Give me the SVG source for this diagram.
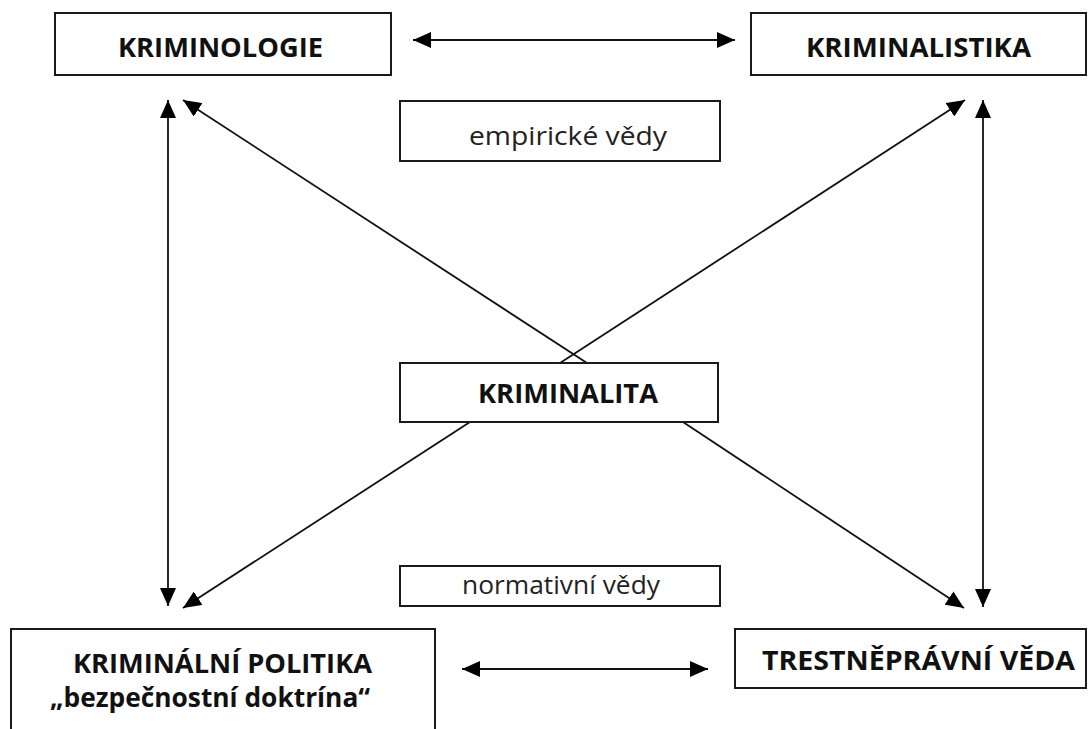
<svg xmlns="http://www.w3.org/2000/svg" width="1088" height="729" viewBox="0 0 1088 729">
<style>
.box{fill:#fff;stroke:#1a1a1a;stroke-width:2}
.b{font-family:"Open Sans","Liberation Sans",sans-serif;font-weight:bold;font-size:26.5px;fill:#111;text-anchor:start}
.r{font-family:"Open Sans","Liberation Sans",sans-serif;font-size:25px;fill:#222;text-anchor:start}
.c{stroke:#111;stroke-width:1.8;fill:none;marker-end:url(#ah)}
.d{stroke:#111;stroke-width:1.8;fill:none;marker-start:url(#ah);marker-end:url(#ah)}
</style>
<defs>
<marker id="ah" viewBox="0 0 18 16" refX="18" refY="8" markerWidth="18" markerHeight="16" markerUnits="userSpaceOnUse" orient="auto-start-reverse">
<path d="M0,0 L18,8 L0,16 Z" fill="#000"/>
</marker>
</defs>
<rect width="1088" height="729" fill="#fff"/>
<g id="connectors">
<line class="d" x1="413" y1="40" x2="735" y2="40"/>
<line class="d" x1="462" y1="669" x2="708" y2="669"/>
<line class="d" x1="168" y1="100" x2="168" y2="606"/>
<line class="d" x1="983" y1="100" x2="983" y2="607"/>
<line class="c" x1="587" y1="363" x2="183" y2="100"/>
<line class="c" x1="560" y1="363" x2="965" y2="100"/>
<line class="c" x1="470" y1="422" x2="183" y2="608"/>
<line class="c" x1="683" y1="422" x2="964" y2="608"/>
</g>
<g id="kriminologie">
<rect class="box" x="55" y="13" width="336" height="62"/>
<text class="b" x="118" y="57" textLength="205" lengthAdjust="spacingAndGlyphs">KRIMINOLOGIE</text>
</g>
<g id="kriminalistika">
<rect class="box" x="751" y="13" width="335" height="62"/>
<text class="b" x="806" y="57" textLength="225" lengthAdjust="spacingAndGlyphs">KRIMINALISTIKA</text>
</g>
<g id="empiricke">
<rect class="box" x="400" y="101" width="320" height="60"/>
<text class="r" x="469" y="145" textLength="198" lengthAdjust="spacingAndGlyphs">empirické vědy</text>
</g>
<g id="kriminalita">
<rect class="box" x="400" y="363" width="318" height="59"/>
<text class="b" x="478" y="403" textLength="180" lengthAdjust="spacingAndGlyphs">KRIMINALITA</text>
</g>
<g id="normativni">
<rect class="box" x="400" y="566" width="320" height="40"/>
<text class="r" x="462" y="594" textLength="198" lengthAdjust="spacingAndGlyphs">normativní vědy</text>
</g>
<g id="kriminalni-politika">
<rect class="box" x="11" y="629" width="424" height="120"/>
<text class="b" x="73" y="673" textLength="299" lengthAdjust="spacingAndGlyphs">KRIMINÁLNÍ POLITIKA</text>
<text class="b" x="50" y="707" textLength="320" lengthAdjust="spacingAndGlyphs">„bezpečnostní doktrína“</text>
</g>
<g id="trestnepravni">
<rect class="box" x="735" y="629" width="351" height="59"/>
<text class="b" x="762" y="670" textLength="313" lengthAdjust="spacingAndGlyphs">TRESTNĚPRÁVNÍ VĚDA</text>
</g>
</svg>
